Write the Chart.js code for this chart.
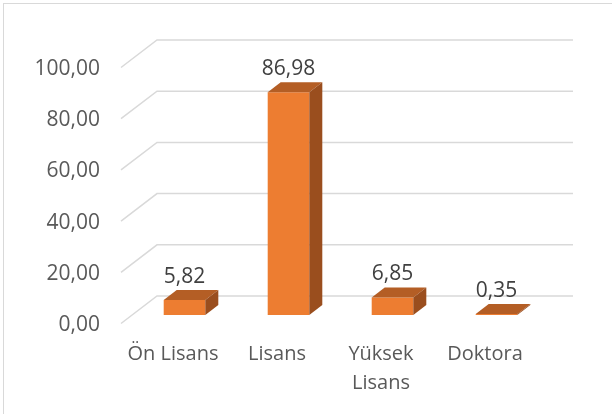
<!DOCTYPE html>
<html>
<head>
<meta charset="utf-8">
<script src="https://cdn.jsdelivr.net/npm/chart.js@4.4.0/dist/chart.umd.min.js"></script>
<style>
  html, body { margin: 0; padding: 0; background: #fff; overflow: hidden; }
  #wrap { position: relative; width: 612px; height: 414px; }
  #frame { position: absolute; left: 3px; top: 3px; width: 640px; height: 440px; border: 1.5px solid #d9d9d9; box-sizing: border-box; }
  canvas { position: absolute; left: 0; top: 0; }
</style>
</head>
<body>
<div id="wrap">
  <div id="frame"></div>
  <canvas id="chart" width="612" height="414"></canvas>
</div>
<script>
const categories = ['Ön Lisans', 'Lisans', ['Yüksek', 'Lisans'], 'Doktora'];
const values = [5.82, 86.98, 6.85, 0.35];
const yTicks = [0, 20, 40, 60, 80, 100];

const FONT = "'Open Sans', sans-serif";
const fmt = v => v.toFixed(2).replace('.', ',');

// depth offsets relative to the plane of the bar fronts
const back = { x: 24.5, y: -19 };
const front = { x: -11.5, y: 8.5 };
const barDepth = { x: 13, y: -10 };

const bars3d = {
    id: 'bars3d',
    beforeDatasetsDraw(chart) {
        const { ctx, chartArea, scales } = chart;
        ctx.save();
        ctx.strokeStyle = '#d9d9d9';
        ctx.lineWidth = 1.5;
        yTicks.forEach(v => {
            const py = scales.y.getPixelForValue(v);
            ctx.beginPath();
            ctx.moveTo(chartArea.left + front.x, py + front.y);
            ctx.lineTo(chartArea.left + back.x, py + back.y);
            ctx.lineTo(chartArea.right + back.x, py + back.y);
            ctx.stroke();
        });
        ctx.restore();
    },
    afterDatasetsDraw(chart) {
        const { ctx } = chart;
        const meta = chart.getDatasetMeta(0);
        ctx.save();
        meta.data.forEach((bar, i) => {
            const { x, y, base, width } = bar.getProps(['x', 'y', 'base', 'width'], true);
            const l = x - width / 2, r = x + width / 2;
            // top face
            ctx.fillStyle = '#b45e25';
            ctx.beginPath();
            ctx.moveTo(l, y);
            ctx.lineTo(r, y);
            ctx.lineTo(r + barDepth.x, y + barDepth.y);
            ctx.lineTo(l + barDepth.x, y + barDepth.y);
            ctx.closePath();
            ctx.fill();
            // side face
            ctx.fillStyle = '#9a4e1e';
            ctx.beginPath();
            ctx.moveTo(r, y);
            ctx.lineTo(r, base);
            ctx.lineTo(r + barDepth.x, base + barDepth.y);
            ctx.lineTo(r + barDepth.x, y + barDepth.y);
            ctx.closePath();
            ctx.fill();
            // value label
            ctx.fillStyle = '#404040';
            ctx.font = '21px ' + FONT;
            ctx.textAlign = 'center';
            ctx.textBaseline = 'middle';
            ctx.fillText(fmt(values[i]), x, y - 23);
        });
        ctx.restore();
    }
};

new Chart(document.getElementById('chart'), {
    type: 'bar',
    data: {
        labels: categories,
        datasets: [{
            data: values,
            backgroundColor: '#ed7d31',
            borderWidth: 0,
            categoryPercentage: 1,
            barPercentage: 0.4
        }]
    },
    options: {
        responsive: false,
        animation: false,
        devicePixelRatio: 1,
        layout: { padding: { top: 59, right: 63.5, bottom: 0, left: 0 } },
        plugins: { legend: { display: false }, tooltip: { enabled: false } },
        scales: {
            x: {
                grid: { display: false, drawTicks: false },
                border: { display: false },
                afterFit: s => { s.height = 99; },
                ticks: {
                    color: '#595959',
                    font: { family: FONT, size: 20, lineHeight: 1.45 },
                    padding: 25,
                    labelOffset: -11.5,
                    maxRotation: 0,
                    autoSkip: false
                }
            },
            y: {
                min: 0,
                max: 100,
                grid: { display: false, drawTicks: false },
                border: { display: false },
                afterFit: s => { s.width = 132.5; },
                ticks: {
                    stepSize: 20,
                    color: '#595959',
                    font: { family: FONT, size: 21 },
                    padding: 32.5,
                    labelOffset: 10,
                    callback: v => fmt(v)
                }
            }
        }
    },
    plugins: [bars3d]
});
</script>
</body>
</html>
